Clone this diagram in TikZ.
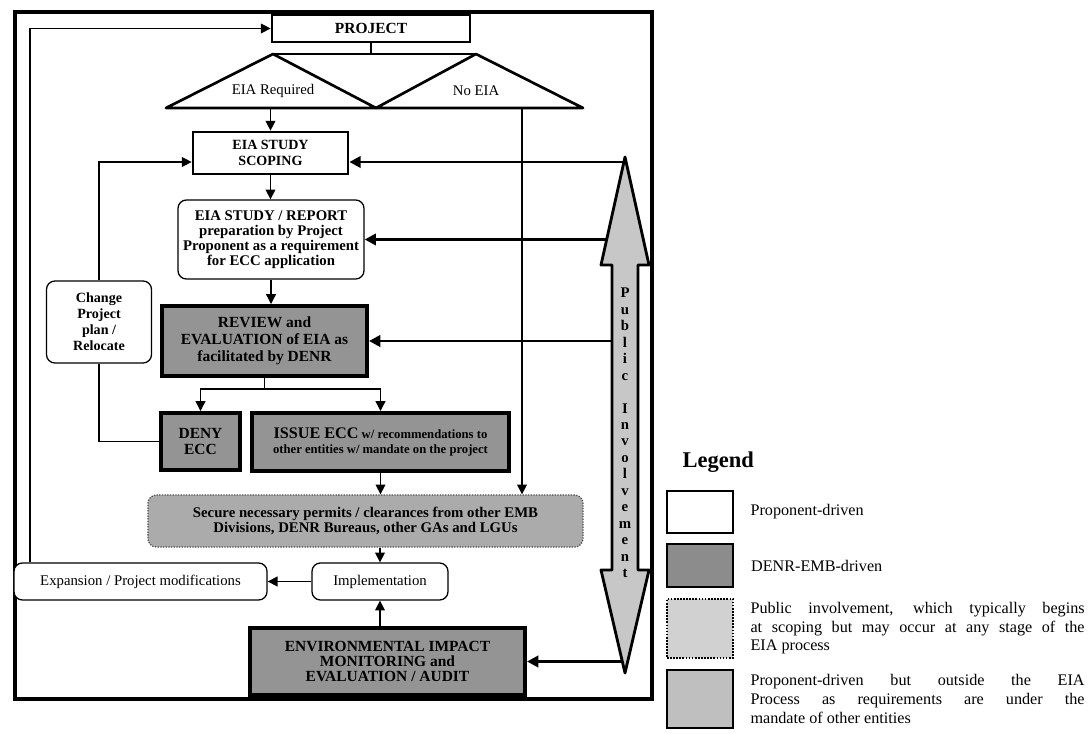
\documentclass[tikz,border=0pt]{standalone}
\usepackage{fontspec}
\setmainfont{Liberation Serif}
\usetikzlibrary{arrows.meta,positioning}

\begin{document}
\begin{tikzpicture}[x=0.025cm,y=-0.025cm,
  every node/.style={inner sep=1pt},
  propbox/.style={draw,line width=1.9pt,fill=white,align=center,font=\fontsize{10}{11}\selectfont\bfseries},
  roundbox/.style={draw,line width=0.9pt,rounded corners=6pt,fill=white,align=center},
  denrbox/.style={draw,line width=2.8pt,fill=black!42,align=center,font=\fontsize{11}{12}\selectfont\bfseries},
  outbox/.style={draw=black!70,line width=0.9pt,densely dotted,rounded corners=6pt,fill=black!33,align=center,font=\fontsize{10.5}{11}\selectfont\bfseries},
  flow/.style={line width=0.9pt,-{Triangle[length=7pt,width=7pt]}},
  link/.style={line width=0.9pt},
  pubflow/.style={line width=2pt,-{Triangle[length=8pt,width=8pt]}},
  legbox/.style={draw,minimum width=1.65cm,line width=1.2pt},
  legtext/.style={anchor=west,align=justify,text width=8.35cm,font=\fontsize{11.5}{13.2}\selectfont}
]
  \useasboundingbox (0,0) rectangle (1089,734);
  \draw[line width=2.4pt] (15,12) rectangle (652,699);
  % Project and the two screening triangles
  \node[propbox,minimum width=4.95cm,minimum height=0.675cm,font=\fontsize{11}{12}\selectfont\bfseries] (project) at (371,28.5) {PROJECT};
  \coordinate (reqL) at (166,108);
  \coordinate (reqT) at (273,54);
  \coordinate (mid)  at (376,108);
  \coordinate (noT)  at (476,54);
  \coordinate (noR)  at (583,108);
  \coordinate (noout) at (522,108);
  \draw[line width=1.9pt,line join=round] (reqL) -- (reqT) -- (mid) -- cycle;
  \draw[line width=1.9pt,line join=round] (mid) -- (noT) -- (noR) -- cycle;
  \draw[link] (reqT) -- (noT);
  \draw[link] (project.south) -- (project.south |- reqT);
  \node[font=\fontsize{10.5}{12}\selectfont] (req) at (273,91) {EIA Required};
  \node[font=\fontsize{10.5}{12}\selectfont] (noeia) at (476,91) {No EIA};
  % Main column
  \node[propbox,minimum width=3.875cm,minimum height=1.05cm] (scoping) at (270.5,153) {EIA STUDY\\SCOPING};
  \node[roundbox,minimum width=4.65cm,minimum height=1.975cm,font=\fontsize{10.5}{10.8}\selectfont\bfseries] (report) at (271,239.5)
    {{\fontsize{10.5}{10.8}\selectfont EIA STUDY / REPORT}\\preparation by Project\\Proponent as a requirement\\for ECC application};
  \node[denrbox,minimum width=5.125cm,minimum height=1.75cm] (review) at (264.5,341) {REVIEW and\\EVALUATION of EIA as\\facilitated by DENR};
  \node[roundbox,minimum width=2.625cm,minimum height=2.05cm,font=\fontsize{10}{11.4}\selectfont\bfseries] (change) at (99,322) {Change\\Project\\plan /\\Relocate};
  \node[denrbox,minimum width=1.975cm,minimum height=1.425cm] (deny) at (200.5,441.5) {DENY\\ECC};
  \node[denrbox,minimum width=6.425cm,minimum height=1.45cm,font=\fontsize{9}{11}\selectfont\bfseries] (issue) at (380.5,442)
    {{\fontsize{11.5}{11}\selectfont ISSUE ECC} w/ recommendations to\\other entities w/ mandate on the project};
  \node[outbox,minimum width=10.875cm,minimum height=1.3cm] (secure) at (365.5,521)
    {Secure necessary permits / clearances from other EMB\\Divisions, DENR Bureaus, other GAs and LGUs};
  \node[roundbox,minimum width=3.4cm,minimum height=0.925cm,font=\fontsize{10.5}{12}\selectfont] (impl) at (380,581.5) {Implementation};
  \node[roundbox,minimum width=6.325cm,minimum height=0.925cm,font=\fontsize{10.5}{12}\selectfont] (expansion) at (140.5,581.5) {Expansion / Project modifications};
  \node[denrbox,minimum width=6.875cm,minimum height=1.675cm,font=\fontsize{11}{11}\selectfont\bfseries] (monitor) at (387.5,661.5)
    {ENVIRONMENTAL IMPACT\\MONITORING and\\EVALUATION / AUDIT};
  % connectors
  \coordinate (scopein) at (0,162);
  \coordinate (loop) at (30,0);
  \coordinate (pub) at (625,0);
  \draw[flow] (scoping.north |- reqL) -- (scoping.north);
  \draw[flow] (scoping.south) -- (scoping.south |- report.north);
  \draw[flow] (report.south) -- (report.south |- review.north);
  \draw[flow] (review.south) -- ++(0,11) -| (deny.north);
  \draw[flow] (review.south) -- ++(0,11) -| (issue.north);
  \draw[flow] (issue.south) -- (issue.south |- secure.north);
  \draw[flow] (noout) -- (noout |- secure.north);
  \draw[flow] (impl.north |- secure.south) -- (impl.north);
  \draw[flow] (impl.south |- monitor.north) -- (impl.south);
  \draw[flow] (impl.west) -- (expansion.east);
  \draw[flow] (loop |- expansion.north) |- (project.west);
  \draw[flow] (change.north) |- (scoping.west |- scopein);
  \draw[link] (deny.west) -| (change.south);
  \draw[pubflow] (pub |- scopein) -- (scoping.east |- scopein);
  \draw[pubflow] (pub |- report.east) -- (report.east);
  \draw[pubflow] (pub |- review.east) -- (review.east);
  \draw[pubflow] (pub |- monitor.east) -- (monitor.east);
  % Public involvement arrow
  \draw[line width=2pt,fill=black!22,line join=round] (625,157) -- (649,265) -- (638,265) -- (638,570) -- (649,570)
    -- (625,673) -- (601,570) -- (612,570) -- (612,265) -- (601,265) -- cycle;
  \node[font=\fontsize{10.5}{11.7}\selectfont\bfseries,align=center,inner sep=0pt] (pubtext) at (625,433)
    {P\\u\\b\\l\\i\\c\\[11.7pt]I\\n\\v\\o\\l\\v\\e\\m\\e\\n\\t};
  % Legend
  \node[anchor=west,font=\fontsize{16}{18}\selectfont\bfseries] (legend) at (681,462) {Legend};
  \node[legbox,fill=white,minimum height=1.05cm] (leg1) at (700,512) {};
  \node[legbox,fill=black!45,line width=2pt,minimum height=1.075cm] (leg2) at (700,565.5) {};
  \node[legbox,densely dotted,fill=black!18,minimum height=1.475cm] (leg3) at (700,628.5) {};
  \node[legbox,fill=black!25,minimum height=1.45cm] (leg4) at (700,699) {};
  \node[legtext,right=0.375cm of leg1] (legtxt1) {Proponent-driven};
  \node[legtext,right=0.375cm of leg2] (legtxt2) {DENR-EMB-driven};
  \node[legtext,right=0.375cm of leg3] (legtxt3) {Public involvement, which typically begins\linebreak at scoping but may occur at any stage of the\linebreak EIA process};
  \node[legtext,right=0.375cm of leg4] (legtxt4) {Proponent-driven but outside the EIA\linebreak Process as requirements are under the\linebreak mandate of other entities};
\end{tikzpicture}
\end{document}
